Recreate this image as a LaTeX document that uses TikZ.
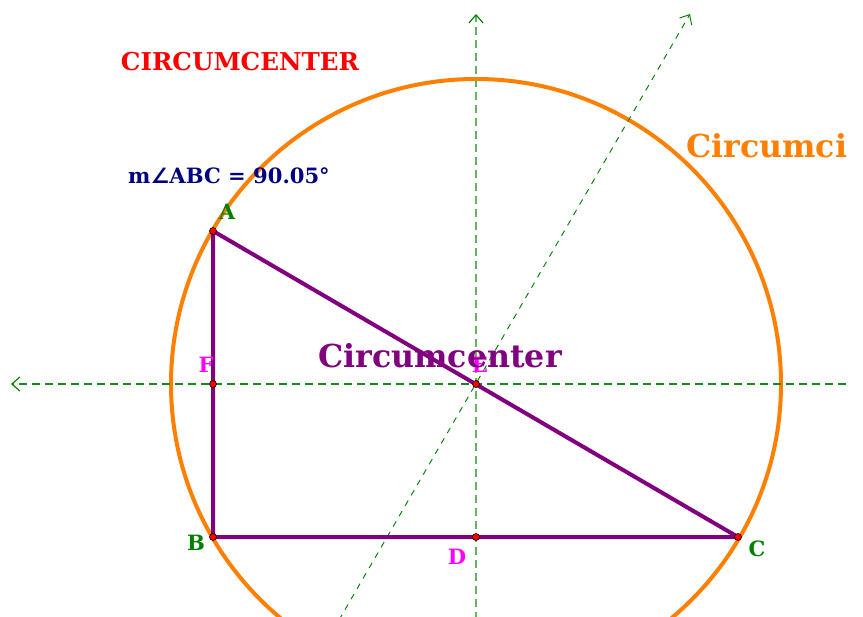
\documentclass[tikz,border=0pt]{standalone}
\usepackage{fontspec}
\setmainfont{DejaVu Serif}
\newfontfamily\symfont{DejaVu Sans}
\usetikzlibrary{arrows.meta}
\definecolor{purp}{RGB}{128,0,128}
\definecolor{orng}{RGB}{255,128,0}
\definecolor{dgreen}{RGB}{0,128,0}
\definecolor{lgreen}{RGB}{100,180,100}
\definecolor{navyblue}{RGB}{0,0,128}
\definecolor{magen}{RGB}{255,0,255}

\begin{document}
\begin{tikzpicture}[x=0.03cm,y=-0.03cm,
  vert/.style={circle,draw=black,fill=red,inner sep=0pt,minimum size=0.21cm,line width=0.5pt},
  side/.style={draw=purp,line width=0.12cm},
  bisec/.style={line width=1pt,dash pattern=on 0.24cm off 0.15cm},
  tip/.style={-{Straight Barb[length=0.24cm,width=0.42cm,color=dgreen]}},
  ptlabel/.style={font=\bfseries\fontsize{18}{18}\selectfont},
  caption/.style={font=\bfseries\fontsize{#1}{#1}\selectfont},
]
\useasboundingbox (0,0) rectangle (863,617);
\clip (0,0) rectangle (863,617);

% triangle corners and midpoints
\coordinate (A) at (213,231);
\coordinate (B) at (213,537);
\coordinate (C) at (738,537);
\coordinate (D) at (476,537);
\coordinate (E) at (476,384);
\coordinate (F) at (213,384);

% circumcircle
\draw[orng,line width=0.12cm] (E) circle [radius=305];

% perpendicular bisectors
\coordinate (vTop) at (476,14);
\coordinate (vBot) at (476,620);
\coordinate (hL) at (11,384);
\coordinate (hR) at (846,384);
\coordinate (dTop) at (690,14);
\coordinate (dBot) at (339,620);
\draw[bisec,draw=lgreen,tip] (vBot) -- (vTop);
\draw[bisec,draw=dgreen!80!lgreen,tip] (hR) -- (hL);
\draw[dgreen,line width=0.8pt,dash pattern=on 0.18cm off 0.18cm,tip] (dBot) -- (dTop);

% triangle
\draw[side,line join=round] (A) -- (B) -- (C) -- cycle;

% points
\foreach \p in {A,B,C,D,E,F}
  \node[vert] (pt\p) at (\p) {};

% labels
\node[ptlabel,text=dgreen] (lblA) at (227,212) {A};
\node[ptlabel,text=dgreen] (lblB) at (196,543) {B};
\node[ptlabel,text=dgreen] (lblC) at (757,549) {C};
\node[ptlabel,text=magen] (lblD) at (457,557) {D};
\node[ptlabel,text=magen] (lblE) at (480,365) {E};
\node[ptlabel,text=magen] (lblF) at (206,365) {F};

% texts
\node[caption=21,text=red] (title) at (240,62) {CIRCUMCENTER};
\node[caption=18,text=navyblue] (measure) at (229,176) {m{\symfont∠}ABC = 90.05°};
\node[caption=27,text=purp] (center) at (440,356) {Circumcenter};
\node[caption=27,text=orng,anchor=west] (circ) at (682,146) {Circumci};

\end{tikzpicture}
\end{document}
